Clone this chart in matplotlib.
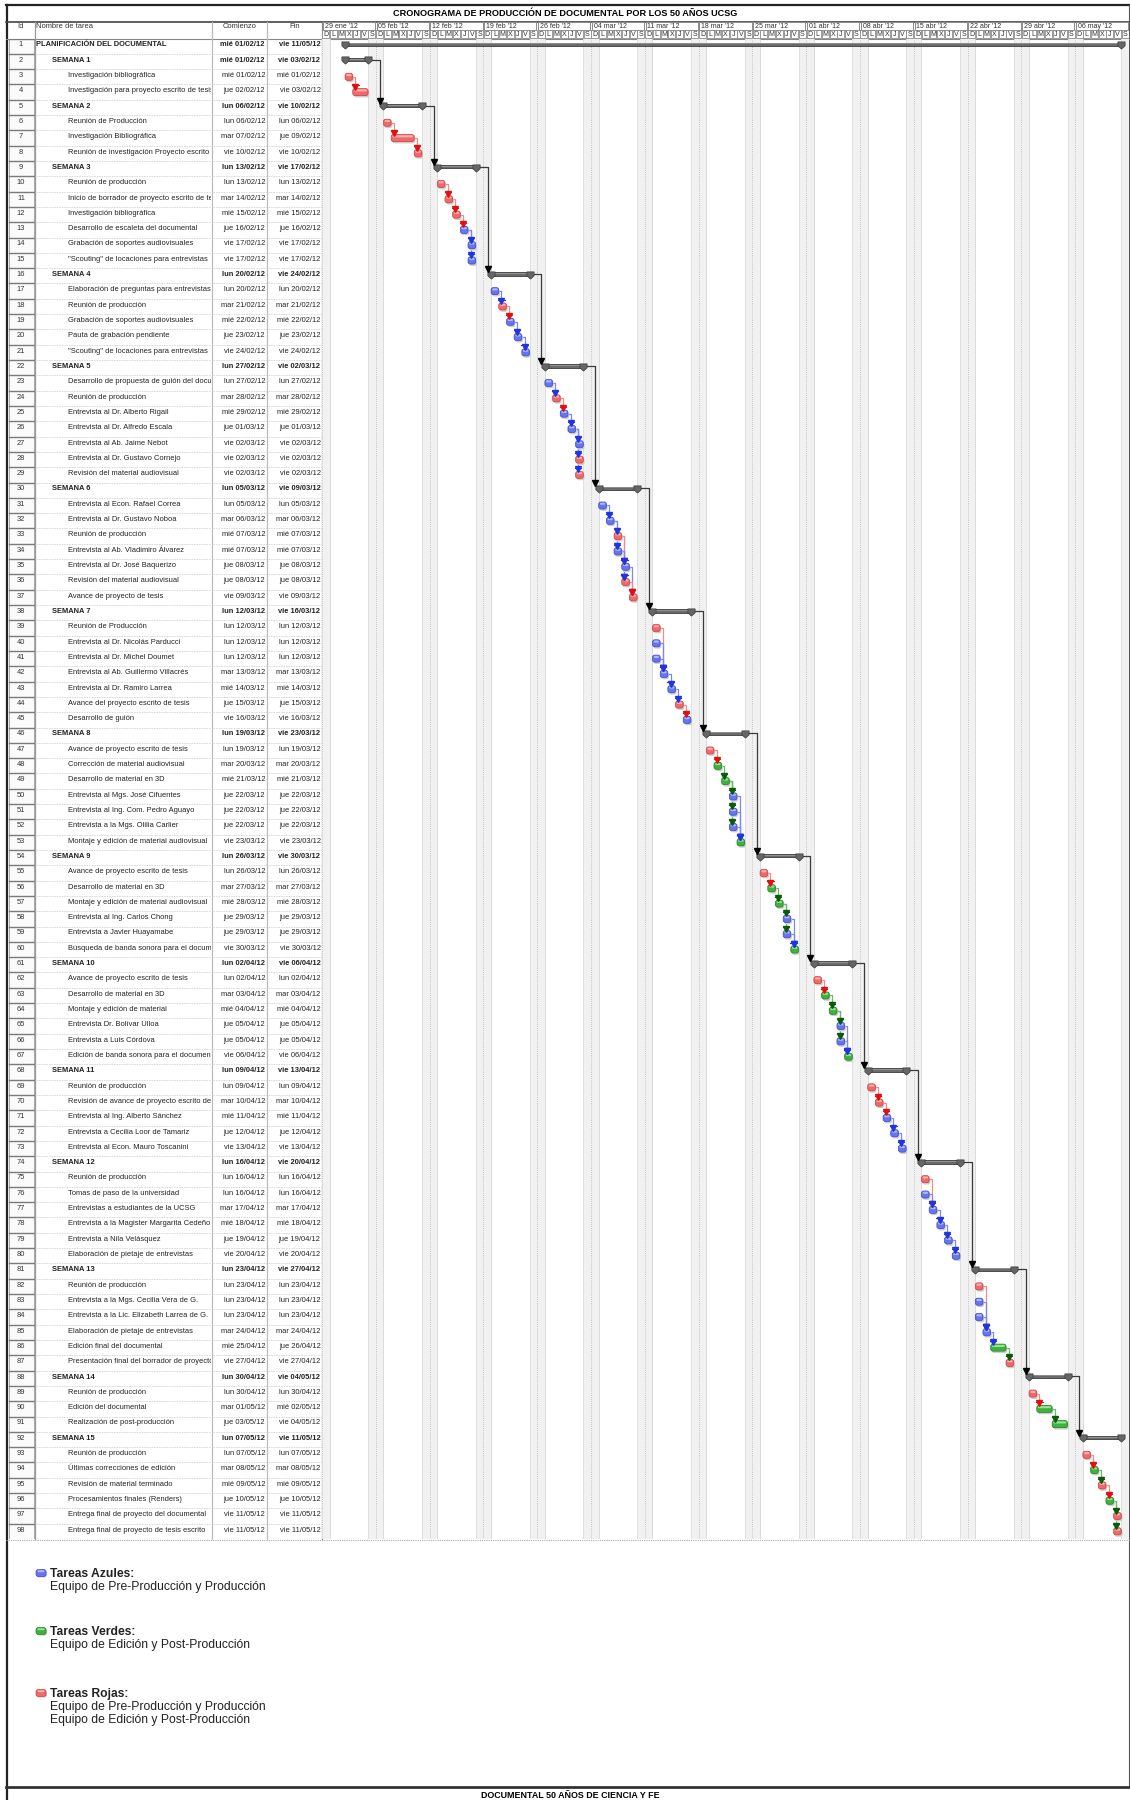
import matplotlib
matplotlib.use("Agg")
import matplotlib.pyplot as plt
import pandas as pd
from matplotlib.patches import FancyBboxPatch, Rectangle
from matplotlib.path import Path

plt.rcParams['font.family'] = ['Liberation Sans', 'DejaVu Sans']

# ---------------- data ----------------
names = [
    "PLANIFICACIÓN DEL DOCUMENTAL",
    "SEMANA 1",
    "Investigación bibliográfica",
    "Investigación para proyecto escrito de tesis",
    "SEMANA 2",
    "Reunión de Producción",
    "Investigación Bibliográfica",
    "Reunión de investigación Proyecto escrito",
    "SEMANA 3",
    "Reunión de producción",
    "Inicio de borrador de proyecto escrito de tesis",
    "Investigación bibliográfica",
    "Desarrollo de escaleta del documental",
    "Grabación de soportes audiovisuales",
    "\"Scouting\" de locaciones para entrevistas",
    "SEMANA 4",
    "Elaboración de preguntas para entrevistas",
    "Reunión de producción",
    "Grabación de soportes audiovisuales",
    "Pauta de grabación pendiente",
    "\"Scouting\" de locaciones para entrevistas",
    "SEMANA 5",
    "Desarrollo de propuesta de guión del documental",
    "Reunión de producción",
    "Entrevista al Dr. Alberto Rigail",
    "Entrevista al Dr. Alfredo Escala",
    "Entrevista al Ab. Jaime Nebot",
    "Entrevista al Dr. Gustavo Cornejo",
    "Revisión del material audiovisual",
    "SEMANA 6",
    "Entrevista al Econ. Rafael Correa",
    "Entrevista al Dr. Gustavo Noboa",
    "Reunión de producción",
    "Entrevista al Ab. Vladimiro Álvarez",
    "Entrevista al Dr. José Baquerizo",
    "Revisión del material audiovisual",
    "Avance de proyecto de tesis",
    "SEMANA 7",
    "Reunión de Producción",
    "Entrevista al Dr. Nicolás Parducci",
    "Entrevista al Dr. Michel Doumet",
    "Entrevista al Ab. Guillermo Villacrés",
    "Entrevista al Dr. Ramiro Larrea",
    "Avance del proyecto escrito de tesis",
    "Desarrollo de guión",
    "SEMANA 8",
    "Avance de proyecto escrito de tesis",
    "Corrección de material audiovisual",
    "Desarrollo de material en 3D",
    "Entrevista al Mgs. José Cifuentes",
    "Entrevista al Ing. Com. Pedro Aguayo",
    "Entrevista a la Mgs. Olilia Carlier",
    "Montaje y edición de material audiovisual",
    "SEMANA 9",
    "Avance de proyecto escrito de tesis",
    "Desarrollo de material en 3D",
    "Montaje y edición de material audiovisual",
    "Entrevista al Ing. Carlos Chong",
    "Entrevista a Javier Huayamabe",
    "Búsqueda de banda sonora para el documental",
    "SEMANA 10",
    "Avance de proyecto escrito de tesis",
    "Desarrollo de material en 3D",
    "Montaje y edición de material",
    "Entrevista Dr. Bolívar Ulloa",
    "Entrevista a Luis Córdova",
    "Edición de banda sonora para el documental",
    "SEMANA 11",
    "Reunión de producción",
    "Revisión de avance de proyecto escrito de tesis",
    "Entrevista al Ing. Alberto Sánchez",
    "Entrevista a Cecilia Loor de Tamariz",
    "Entrevista al Econ. Mauro Toscanini",
    "SEMANA 12",
    "Reunión de producción",
    "Tomas de paso de la universidad",
    "Entrevistas a estudiantes de la UCSG",
    "Entrevista a la Magister Margarita Cedeño",
    "Entrevista a Nila Velásquez",
    "Elaboración de pietaje de entrevistas",
    "SEMANA 13",
    "Reunión de producción",
    "Entrevista a la Mgs. Cecilia Vera de G.",
    "Entrevista a la Lic. Elizabeth Larrea de G.",
    "Elaboración de pietaje de entrevistas",
    "Edición final del documental",
    "Presentación final del borrador de proyecto de tesis",
    "SEMANA 14",
    "Reunión de producción",
    "Edición del documental",
    "Realización de post-producción",
    "SEMANA 15",
    "Reunión de producción",
    "Últimas correcciones de edición",
    "Revisión de material terminado",
    "Procesamientos finales (Renders)",
    "Entrega final de proyecto del documental",
    "Entrega final de proyecto de tesis escrito",
]

starts = [
    "mié 01/02/12", "mié 01/02/12", "mié 01/02/12", "jue 02/02/12",
    "lun 06/02/12", "lun 06/02/12", "mar 07/02/12", "vie 10/02/12",
    "lun 13/02/12", "lun 13/02/12", "mar 14/02/12", "mié 15/02/12", "jue 16/02/12", "vie 17/02/12", "vie 17/02/12",
    "lun 20/02/12", "lun 20/02/12", "mar 21/02/12", "mié 22/02/12", "jue 23/02/12", "vie 24/02/12",
    "lun 27/02/12", "lun 27/02/12", "mar 28/02/12", "mié 29/02/12", "jue 01/03/12", "vie 02/03/12", "vie 02/03/12", "vie 02/03/12",
    "lun 05/03/12", "lun 05/03/12", "mar 06/03/12", "mié 07/03/12", "mié 07/03/12", "jue 08/03/12", "jue 08/03/12", "vie 09/03/12",
    "lun 12/03/12", "lun 12/03/12", "lun 12/03/12", "lun 12/03/12", "mar 13/03/12", "mié 14/03/12", "jue 15/03/12", "vie 16/03/12",
    "lun 19/03/12", "lun 19/03/12", "mar 20/03/12", "mié 21/03/12", "jue 22/03/12", "jue 22/03/12", "jue 22/03/12", "vie 23/03/12",
    "lun 26/03/12", "lun 26/03/12", "mar 27/03/12", "mié 28/03/12", "jue 29/03/12", "jue 29/03/12", "vie 30/03/12",
    "lun 02/04/12", "lun 02/04/12", "mar 03/04/12", "mié 04/04/12", "jue 05/04/12", "jue 05/04/12", "vie 06/04/12",
    "lun 09/04/12", "lun 09/04/12", "mar 10/04/12", "mié 11/04/12", "jue 12/04/12", "vie 13/04/12",
    "lun 16/04/12", "lun 16/04/12", "lun 16/04/12", "mar 17/04/12", "mié 18/04/12", "jue 19/04/12", "vie 20/04/12",
    "lun 23/04/12", "lun 23/04/12", "lun 23/04/12", "lun 23/04/12", "mar 24/04/12", "mié 25/04/12", "vie 27/04/12",
    "lun 30/04/12", "lun 30/04/12", "mar 01/05/12", "jue 03/05/12",
    "lun 07/05/12", "lun 07/05/12", "mar 08/05/12", "mié 09/05/12", "jue 10/05/12", "vie 11/05/12", "vie 11/05/12",
]

ends = [
    "vie 11/05/12", "vie 03/02/12", "mié 01/02/12", "vie 03/02/12",
    "vie 10/02/12", "lun 06/02/12", "jue 09/02/12", "vie 10/02/12",
    "vie 17/02/12", "lun 13/02/12", "mar 14/02/12", "mié 15/02/12", "jue 16/02/12", "vie 17/02/12", "vie 17/02/12",
    "vie 24/02/12", "lun 20/02/12", "mar 21/02/12", "mié 22/02/12", "jue 23/02/12", "vie 24/02/12",
    "vie 02/03/12", "lun 27/02/12", "mar 28/02/12", "mié 29/02/12", "jue 01/03/12", "vie 02/03/12", "vie 02/03/12", "vie 02/03/12",
    "vie 09/03/12", "lun 05/03/12", "mar 06/03/12", "mié 07/03/12", "mié 07/03/12", "jue 08/03/12", "jue 08/03/12", "vie 09/03/12",
    "vie 16/03/12", "lun 12/03/12", "lun 12/03/12", "lun 12/03/12", "mar 13/03/12", "mié 14/03/12", "jue 15/03/12", "vie 16/03/12",
    "vie 23/03/12", "lun 19/03/12", "mar 20/03/12", "mié 21/03/12", "jue 22/03/12", "jue 22/03/12", "jue 22/03/12", "vie 23/03/12",
    "vie 30/03/12", "lun 26/03/12", "mar 27/03/12", "mié 28/03/12", "jue 29/03/12", "jue 29/03/12", "vie 30/03/12",
    "vie 06/04/12", "lun 02/04/12", "mar 03/04/12", "mié 04/04/12", "jue 05/04/12", "jue 05/04/12", "vie 06/04/12",
    "vie 13/04/12", "lun 09/04/12", "mar 10/04/12", "mié 11/04/12", "jue 12/04/12", "vie 13/04/12",
    "vie 20/04/12", "lun 16/04/12", "lun 16/04/12", "mar 17/04/12", "mié 18/04/12", "jue 19/04/12", "vie 20/04/12",
    "vie 27/04/12", "lun 23/04/12", "lun 23/04/12", "lun 23/04/12", "mar 24/04/12", "jue 26/04/12", "vie 27/04/12",
    "vie 04/05/12", "lun 30/04/12", "mié 02/05/12", "vie 04/05/12",
    "vie 11/05/12", "lun 07/05/12", "mar 08/05/12", "mié 09/05/12", "jue 10/05/12", "vie 11/05/12", "vie 11/05/12",
]

# 0 = project, 1 = week summary, 2 = task
levels = [0, 1, 2, 2, 1, 2, 2, 2, 1, 2, 2, 2, 2, 2, 2, 1, 2, 2, 2, 2, 2,
          1, 2, 2, 2, 2, 2, 2, 2, 1, 2, 2, 2, 2, 2, 2, 2, 1, 2, 2, 2, 2, 2, 2, 2,
          1, 2, 2, 2, 2, 2, 2, 2, 1, 2, 2, 2, 2, 2, 2, 1, 2, 2, 2, 2, 2, 2,
          1, 2, 2, 2, 2, 2, 1, 2, 2, 2, 2, 2, 2, 1, 2, 2, 2, 2, 2, 2,
          1, 2, 2, 2, 1, 2, 2, 2, 2, 2, 2]

# team colour of every task (r = rojo, b = azul, g = verde)
teams = ["", "", "r", "r", "", "r", "r", "r", "", "r", "r", "r", "b", "b", "b",
         "", "b", "r", "b", "b", "b",
         "", "b", "r", "b", "b", "b", "r", "r",
         "", "b", "b", "r", "b", "b", "r", "r",
         "", "r", "b", "b", "b", "b", "r", "b",
         "", "r", "g", "g", "b", "b", "b", "g",
         "", "r", "g", "g", "b", "b", "g",
         "", "r", "g", "g", "b", "b", "g",
         "", "r", "r", "b", "b", "b",
         "", "r", "b", "b", "b", "b", "b",
         "", "r", "b", "b", "b", "g", "r",
         "", "r", "g", "g",
         "", "r", "g", "r", "g", "r", "r"]

legend_titles = ["Tareas Azules:", "Tareas Verdes:", "Tareas Rojas:"]
legend_texts = ["Equipo de Pre-Producción y Producción",
                "Equipo de Edición y Post-Producción",
                "Equipo de Pre-Producción y Producción\nEquipo de Edición y Post-Producción"]
legend_teams = ["b", "g", "r"]

day_letters = ["D", "L", "M", "X", "J", "V", "S"]
month_abbr = {1: "ene", 2: "feb", 3: "mar", 4: "abr", 5: "may"}
timeline_start = pd.Timestamp(2012, 1, 29)
n_weeks = 15

title = "CRONOGRAMA DE PRODUCCIÓN DE DOCUMENTAL POR LOS 50 AÑOS UCSG"
footer = "DOCUMENTAL 50 AÑOS DE CIENCIA Y FE"

# ---------------- helpers ----------------
def day_index(s):
    d = pd.to_datetime(s.split()[1], format="%d/%m/%y")
    return (d - timeline_start).days

s_idx = [day_index(s) for s in starts]
e_idx = [day_index(s) for s in ends]
n = len(names)
rows = list(range(1, n + 1))

fill = {"r": "#f06868", "b": "#6675ee", "g": "#3db23d"}
light = {"r": "#fbb0b0", "b": "#b0b8fb", "g": "#9be09b"}
dark = {"r": "#c84040", "b": "#3a48c8", "g": "#1f801f"}
line_c = {"r": "#ee8c8c", "b": "#7b88f0", "g": "#6cb86c"}
arrow_c = {"r": "#e01010", "b": "#1f35e0", "g": "#0a5a0a"}

W, H = 1130, 1800
TOP, BOT = 38.5, 1539
ASPECT = 0.5  # px per day / px per row
FS = 5.4


def fax(x0, y0, x1, y1, **kw):
    ax = fig.add_axes([x0 / W, 1 - y1 / H, (x1 - x0) / W, (y1 - y0) / H], **kw)
    ax.axis("off")
    return ax


def draw_bar(ax, x0, x1, y, team, h=0.46):
    shadow = FancyBboxPatch((x0 + 0.15, y - h / 2 + 0.12), x1 - x0, h,
                            boxstyle="round,pad=0,rounding_size=0.3",
                            mutation_aspect=ASPECT, fc="#cccccc", ec="none", zorder=3)
    body = FancyBboxPatch((x0, y - h / 2), x1 - x0, h,
                          boxstyle="round,pad=0,rounding_size=0.3",
                          mutation_aspect=ASPECT, fc=fill[team], ec=dark[team],
                          lw=0.5, zorder=4)
    hi = FancyBboxPatch((x0 + 0.15, y - h / 2 + 0.05), x1 - x0 - 0.3, h * 0.3,
                        boxstyle="round,pad=0,rounding_size=0.15",
                        mutation_aspect=ASPECT, fc=light[team], ec="none", zorder=5)
    for p in (shadow, body, hi):
        ax.add_patch(p)


cap = Path([(-1, 1), (1, 1), (1, -0.1), (0, -1), (-1, -0.1), (-1, 1)],
           [Path.MOVETO, Path.LINETO, Path.LINETO, Path.LINETO, Path.LINETO, Path.CLOSEPOLY])

fig = plt.figure(figsize=(W / 100, H / 100), dpi=100)
fig.patch.set_facecolor("white")

# ---------------- background / frame ----------------
bg = fig.add_axes([0, 0, 1, 1])
bg.set_xlim(0, W)
bg.set_ylim(H, 0)
bg.axis("off")
bg.plot([6.5, 6.5], [4.5, H], color="#222222", lw=1.6)
bg.plot([6, W], [4.5, 4.5], color="#222222", lw=1.6)
bg.plot([1129.3, 1129.3], [4.5, 1787], color="#555555", lw=0.8)
bg.plot([6, W], [21.5, 21.5], color="#444444", lw=1.2)
bg.plot([6, W], [TOP, TOP], color="#888888", lw=0.8)
bg.plot([6, W], [BOT + 0.5, BOT + 0.5], color="#aaaaaa", lw=0.8, ls=(0, (1, 1)))
bg.plot([6, W], [1787, 1787], color="#333333", lw=2.0)
bg.text(565, 13.5, title, ha="center", va="center", fontsize=6.6, fontweight="bold")
bg.text(570, 1796, footer, ha="center", va="center", fontsize=6.4, fontweight="bold")

# table header
bg.text(20.5, 27, "Id", ha="center", va="center", fontsize=FS, color="#333333")
bg.text(36, 27, "Nombre de tarea", ha="left", va="center", fontsize=FS, color="#333333")
bg.text(240, 27, "Comienzo", ha="center", va="center", fontsize=FS, color="#333333")
bg.text(295, 27, "Fin", ha="center", va="center", fontsize=FS, color="#333333")
for xv, c in [(35, "#999999"), (212, "#bbbbbb"), (267, "#bbbbbb"), (322, "#888888")]:
    bg.plot([xv, xv], [21.5, BOT], color=c, lw=0.9)

# legend
leg_y = [1574, 1632, 1694]
for yy, t, txt, tm in zip(leg_y, legend_titles, legend_texts, legend_teams):
    bg.add_patch(FancyBboxPatch((37, yy - 3.5), 10, 7, boxstyle="round,pad=0,rounding_size=2.5",
                                fc="#cccccc", ec="none"))
    bg.add_patch(FancyBboxPatch((36, yy - 4.5), 10, 7, boxstyle="round,pad=0,rounding_size=2.5",
                                fc=fill[tm], ec=dark[tm], lw=0.5))
    bg.add_patch(FancyBboxPatch((37.5, yy - 3.8), 7, 2, boxstyle="round,pad=0,rounding_size=1",
                                fc=light[tm], ec="none"))
    bg.text(49.5, yy, t, ha="left", va="center", fontsize=8.7, fontweight="bold", color="#222222")
    bg.text(50, yy + 7, txt, ha="left", va="top", fontsize=8.7, color="#222222",
            linespacing=1.08)

# ---------------- table columns ----------------
ax_id = fax(7, TOP, 35, BOT)
ax_nm = fax(35, TOP, 211.5, BOT)
ax_st = fax(212, TOP, 267, BOT)
ax_en = fax(267, TOP, 322, BOT)
for ax, w in [(ax_id, 28), (ax_nm, 176.5), (ax_st, 55), (ax_en, 55)]:
    ax.set_xlim(0, w)
    ax.set_ylim(n + 0.5, 0.5)

for r, nm, lv, st, en in zip(rows, names, levels, starts, ends):
    ax_id.add_patch(Rectangle((1.5, r - 0.5), 25.5, 1, fc="#fbfbfb", ec="#a8a8a8", lw=0.7))
    ax_id.plot([1.5, 27], [r - 0.5, r - 0.5], color="#7a7a7a", lw=1.0)
    ax_id.text(14, r - 0.08, str(r), ha="center", va="center", fontsize=FS, color="#333333")
    bold = "bold" if lv < 2 else "normal"
    indent = [1, 17.5, 33.5][lv]
    ax_nm.text(indent, r - 0.08, nm, ha="left", va="center", fontsize=FS,
               fontweight=bold, color="#222222", clip_on=True)
    ax_st.text(53, r - 0.08, st, ha="right", va="center", fontsize=FS,
               fontweight=bold, color="#222222", clip_on=True)
    ax_en.text(53.5, r - 0.08, en, ha="right", va="center", fontsize=FS,
               fontweight=bold, color="#222222", clip_on=True)
    for ax, w in [(ax_nm, 176.5), (ax_st, 55), (ax_en, 55)]:
        ax.plot([0, w], [r + 0.5, r + 0.5], color="#c8c8c8", lw=0.6, ls=(0, (1, 1)))

# ---------------- gantt header ----------------
n_days = n_weeks * 7
ax_h = fax(322, 21.5, 1129, TOP)
ax_h.set_xlim(0, n_days)
ax_h.set_ylim(2, 0)
for w in range(n_weeks):
    d = timeline_start + pd.Timedelta(days=7 * w)
    lab = "%02d %s '%s" % (d.day, month_abbr[d.month], str(d.year)[2:])
    ax_h.add_patch(Rectangle((7 * w + 0.1, 0.1), 6.8, 0.85, fc="white", ec="#8a8a8a", lw=0.7))
    ax_h.text(7 * w + 0.35, 0.55, lab, ha="left", va="center", fontsize=5.0, color="#333333")
for k in range(n_days):
    ax_h.add_patch(Rectangle((k + 0.05, 1.02), 0.9, 0.9, fc="white", ec="#8a8a8a", lw=0.6))
    ax_h.text(k + 0.5, 1.5, day_letters[k % 7], ha="center", va="center", fontsize=5.0,
              color="#333333")

# ---------------- gantt body ----------------
ax_g = fax(322, TOP, 1129, BOT)
ax_g.set_xlim(0, n_days)
ax_g.set_ylim(n + 0.5, 0.5)

for w in range(n_weeks + 1):
    sat, sun = 7 * w - 1, 7 * w
    ax_g.axvspan(sat, sun + 1, color="#f1f1f1", lw=0, zorder=0)
    ax_g.axvline(sun, color="#b4b4b4", lw=0.6, ls=(0, (1, 1.5)), zorder=1)
    ax_g.axvline(sat, color="#dddddd", lw=0.6, zorder=1)
    ax_g.axvline(sun + 1, color="#d5d5d5", lw=0.6, zorder=1)

# summary bars
summaries = [i for i in range(n) if levels[i] < 2]
for i in summaries:
    r = rows[i] - 0.12
    x0, x1 = s_idx[i], e_idx[i] + 1
    ax_g.add_patch(Rectangle((x0, r - 0.11), x1 - x0, 0.22, fc="#6b6b6b", ec="#3c3c3c",
                             lw=0.6, zorder=5))
    ax_g.plot([x0, x1], [r - 0.06, r - 0.06], color="#9a9a9a", lw=0.6, zorder=6)
    ax_g.plot([x0, x1], [r + 0.05, r + 0.05], marker=cap, ms=5.2, ls="none",
              mfc="#666666", mec="#3a3a3a", mew=0.5, zorder=7)

# links between weeks
weeks = [i for i in range(n) if levels[i] == 1]
for a, b in zip(weeks[:-1], weeks[1:]):
    ya, yb = rows[a] - 0.12, rows[b] - 0.12
    xe, xd = e_idx[a] + 1 + 0.35, s_idx[b] - 0.45
    ax_g.plot([xe, xd, xd], [ya, ya, yb - 0.3], color="#3a3a3a", lw=0.9, zorder=2)
    ax_g.plot([xd], [yb - 0.33], marker="v", ms=4.4, color="black", zorder=8)

# task bars and links
groups = []
for i in range(n):
    if levels[i] == 1:
        groups.append([])
    elif levels[i] == 2:
        groups[-1].append(i)

for g in groups:
    for i in g:
        draw_bar(ax_g, s_idx[i], e_idx[i] + 1, rows[i], teams[i])
        later = [j for j in g if s_idx[j] > e_idx[i]]
        if not later:
            continue
        nxt = min(s_idx[j] for j in later)
        for j in later:
            if s_idx[j] != nxt:
                continue
            xe, xd = e_idx[i] + 1, s_idx[j] + 0.35
            yi, yj = rows[i], rows[j]
            ax_g.plot([xe, xd, xd], [yi, yi, yj - 0.36], color=line_c[teams[i]],
                      lw=0.9, zorder=2)
            ax_g.plot([xd], [yj - 0.36], marker="v", ms=3.8, color=arrow_c[teams[i]],
                      zorder=8)
            ax_g.plot([xd - 0.4, xd + 0.4], [yj - 0.45, yj - 0.45],
                      color=arrow_c[teams[i]], lw=0.8, zorder=8)

fig.savefig("out.png", dpi=100)
